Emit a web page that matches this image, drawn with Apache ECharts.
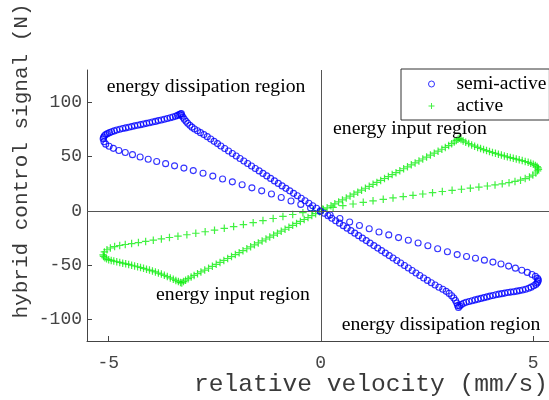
<!DOCTYPE html>
<html>
<head>
<meta charset="utf-8">
<script src="https://cdn.jsdelivr.net/npm/echarts@6/dist/echarts.min.js"></script>
<style>
  html, body { margin: 0; padding: 0; background: #fff; }
  #chart { width: 549px; height: 400px; }
</style>
</head>
<body>
<div id="chart"></div>
<script>
// Tick values shown on each axis
const xTicks = [-5, 0, 5];
const yTicks = [-100, -50, 0, 50, 100];

// Semi-active control: [relative velocity (mm/s), control signal (N)]
const semiActive = [
  // upper return branch
  [-5.12,66.5],[-5.11,68.0],[-5.09,69.3],[-5.06,70.4],[-5.02,71.3],[-4.97,72.2],[-4.92,73.0],[-4.86,73.8],
  [-4.80,74.6],[-4.73,75.4],[-4.66,76.0],[-4.59,76.6],[-4.52,77.2],[-4.45,77.8],[-4.38,78.5],[-4.31,79.0],
  [-4.24,79.6],[-4.17,80.2],[-4.10,80.8],[-4.03,81.4],[-3.96,82.0],[-3.89,82.6],[-3.82,83.3],[-3.75,83.9],
  [-3.68,84.6],[-3.61,85.3],[-3.54,86.0],[-3.48,86.7],[-3.42,87.4],[-3.37,88.1],[-3.33,88.8],[-3.30,89.4],[-3.28,89.8],
  // steep falling branch
  [-3.27,88.0],[-3.24,86.4],[-3.21,84.6],[-3.17,82.7],[-3.13,80.9],[-3.08,79.0],[-3.03,77.3],[-2.97,75.6],
  [-2.90,73.9],[-2.83,72.2],[-2.75,70.4],[-2.67,68.5],[-2.59,66.4],[-2.51,64.2],[-2.43,62.1],[-2.35,59.9],
  [-2.26,57.6],[-2.17,55.3],[-2.08,53.0],[-1.99,50.6],[-1.90,48.3],[-1.81,46.0],[-1.72,43.7],[-1.63,41.4],
  [-1.54,39.1],[-1.45,36.9],[-1.36,34.6],[-1.27,32.3],[-1.18,30.0],[-1.09,27.7],[-1.00,25.4],[-0.91,23.1],
  [-0.82,20.8],[-0.73,18.5],[-0.64,16.2],[-0.55,14.0],[-0.46,11.7],[-0.37,9.4],[-0.28,7.1],[-0.19,4.8],
  [-0.10,2.5],[-0.01,0.2],[0.08,-2.1],[0.17,-4.4],[0.26,-6.7],[0.35,-9.0],[0.44,-11.3],[0.53,-13.6],
  [0.62,-15.9],[0.71,-18.2],[0.80,-20.5],[0.89,-22.8],[0.98,-25.1],[1.07,-27.4],[1.16,-29.7],[1.25,-32.0],
  [1.34,-34.3],[1.43,-36.6],[1.52,-38.9],[1.61,-41.2],[1.70,-43.5],[1.79,-45.8],[1.88,-48.1],[1.97,-50.4],
  [2.06,-52.7],[2.15,-55.0],[2.24,-57.3],[2.33,-59.6],[2.42,-61.9],[2.51,-64.1],[2.60,-66.3],[2.69,-68.4],
  [2.78,-70.4],[2.87,-72.3],[2.95,-74.2],[3.02,-76.1],[3.08,-78.2],[3.13,-80.4],[3.17,-82.7],[3.20,-85.0],
  [3.22,-87.2],[3.24,-89.0],
  // lower branch
  [3.27,-87.6],[3.31,-86.3],[3.36,-85.2],[3.42,-84.3],[3.49,-83.5],[3.56,-82.8],[3.63,-82.1],[3.70,-81.4],
  [3.77,-80.7],[3.84,-80.0],[3.91,-79.3],[3.98,-78.6],[4.05,-78.0],[4.12,-77.4],[4.19,-76.8],[4.26,-76.3],
  [4.33,-75.8],[4.40,-75.3],[4.47,-74.9],[4.54,-74.5],[4.61,-74.0],[4.68,-73.5],[4.75,-72.9],[4.82,-72.2],
  [4.89,-71.3],[4.95,-70.3],[5.01,-69.1],[5.06,-67.8],[5.09,-66.4],[5.11,-65.0],[5.12,-63.6],
  // fast sweep back
  [5.10,-62.2],[5.05,-60.4],[4.97,-58.6],[4.86,-56.7],[4.73,-54.7],[4.58,-52.8],[4.42,-50.9],[4.24,-49.0],
  [4.05,-47.2],[3.85,-45.4],[3.64,-43.6],[3.43,-42.0],[3.21,-40.3],[2.98,-37.7],[2.75,-34.9],[2.52,-32.2],
  [2.29,-29.6],[2.06,-27.0],[1.83,-24.6],[1.60,-22.1],[1.37,-19.4],[1.14,-16.5],[0.91,-13.4],[0.68,-10.2],
  [0.45,-7.0],[0.22,-3.8],[-0.01,-0.6],[-0.24,2.7],[-0.47,6.0],[-0.70,9.2],[-0.93,12.4],[-1.16,15.6],
  [-1.39,18.5],[-1.62,21.3],[-1.85,24.1],[-2.08,26.8],[-2.31,29.5],[-2.54,32.1],[-2.77,34.7],[-3.00,37.2],
  [-3.22,39.5],[-3.44,41.6],[-3.65,43.6],[-3.86,45.6],[-4.06,47.7],[-4.25,49.8],[-4.43,51.9],[-4.60,53.9],
  [-4.75,55.8],[-4.88,57.7],[-4.98,59.6],[-5.06,61.6],[-5.10,63.8]
];

// Active control: [relative velocity (mm/s), control signal (N)]
const active = [
  // lower branch
  [-5.12,-40.5],[-5.11,-42.0],[-5.08,-43.2],[-5.04,-44.2],[-4.99,-45.0],[-4.93,-45.7],[-4.87,-46.3],[-4.80,-46.9],
  [-4.73,-47.5],[-4.66,-48.2],[-4.59,-48.8],[-4.52,-49.4],[-4.45,-50.1],[-4.38,-50.8],[-4.31,-51.5],[-4.24,-52.2],
  [-4.17,-53.0],[-4.10,-53.8],[-4.03,-54.6],[-3.96,-55.4],[-3.89,-56.3],[-3.82,-57.3],[-3.75,-58.3],[-3.68,-59.4],
  [-3.61,-60.6],[-3.54,-61.8],[-3.47,-63.0],[-3.41,-64.1],[-3.35,-65.2],[-3.30,-66.1],
  // steep rising branch
  [-3.27,-66.4],[-3.23,-65.2],[-3.18,-63.9],[-3.12,-62.5],[-3.05,-61.0],[-2.98,-59.5],[-2.90,-57.9],[-2.82,-56.3],
  [-2.73,-54.6],[-2.64,-52.9],[-2.55,-51.1],[-2.46,-49.3],[-2.37,-47.5],[-2.28,-45.7],[-2.19,-43.9],[-2.10,-42.1],
  [-2.01,-40.3],[-1.92,-38.5],[-1.83,-36.7],[-1.74,-34.9],[-1.65,-33.1],[-1.56,-31.3],[-1.47,-29.5],[-1.38,-27.7],
  [-1.29,-25.9],[-1.20,-24.1],[-1.11,-22.3],[-1.02,-20.5],[-0.93,-18.7],[-0.84,-16.9],[-0.75,-15.1],[-0.66,-13.3],
  [-0.57,-11.5],[-0.48,-9.7],[-0.39,-7.9],[-0.30,-6.1],[-0.21,-4.3],[-0.12,-2.5],[-0.03,-0.7],[0.06,1.1],
  [0.15,2.9],[0.24,4.7],[0.33,6.5],[0.42,8.3],[0.51,10.1],[0.60,11.9],[0.69,13.7],[0.78,15.5],
  [0.87,17.3],[0.96,19.1],[1.05,20.9],[1.14,22.7],[1.23,24.5],[1.32,26.3],[1.41,28.1],[1.50,29.9],
  [1.59,31.7],[1.68,33.5],[1.77,35.3],[1.86,37.1],[1.95,38.9],[2.04,40.7],[2.13,42.5],[2.22,44.3],
  [2.31,46.1],[2.40,47.9],[2.49,49.7],[2.58,51.5],[2.67,53.3],[2.76,55.1],[2.85,56.9],[2.93,58.6],
  [3.01,60.3],[3.08,62.0],[3.14,63.6],[3.19,65.0],[3.23,66.2],[3.26,67.0],
  // upper branch
  [3.30,65.8],[3.35,64.6],[3.41,63.4],[3.48,62.1],[3.55,60.9],[3.62,59.7],[3.69,58.6],[3.76,57.6],
  [3.83,56.6],[3.90,55.7],[3.97,54.8],[4.04,53.9],[4.11,53.1],[4.18,52.3],[4.25,51.5],[4.32,50.7],
  [4.39,49.9],[4.46,49.2],[4.53,48.5],[4.60,47.8],[4.67,47.1],[4.74,46.4],[4.81,45.6],[4.88,44.8],
  [4.94,43.9],[5.00,43.0],[5.05,42.0],[5.09,40.9],[5.11,39.7],[5.12,38.4],
  // fast sweep back
  [5.10,37.0],[5.06,35.0],[4.99,33.1],[4.91,31.4],[4.81,29.8],[4.70,28.4],[4.57,27.2],[4.43,26.1],
  [4.27,25.0],[4.10,24.0],[3.92,23.0],[3.72,22.0],[3.52,21.0],[3.31,20.0],[3.09,19.0],[2.86,17.9],
  [2.63,16.8],[2.40,15.6],[2.17,14.4],[1.94,13.2],[1.70,12.0],[1.47,10.7],[1.23,9.3],[1.00,7.9],
  [0.76,6.4],[0.52,4.9],[0.29,3.3],[0.05,1.7],[-0.19,0.1],[-0.42,-1.6],[-0.66,-3.3],[-0.89,-5.1],
  [-1.12,-7.0],[-1.36,-8.9],[-1.59,-10.8],[-1.82,-12.6],[-2.05,-14.4],[-2.27,-16.1],[-2.50,-17.8],[-2.72,-19.2],
  [-2.94,-20.6],[-3.15,-22.0],[-3.36,-23.3],[-3.56,-24.5],[-3.75,-25.8],[-3.94,-27.0],[-4.12,-28.1],[-4.29,-29.2],
  [-4.45,-30.1],[-4.60,-31.0],[-4.73,-31.9],[-4.85,-32.9],[-4.95,-34.2],[-5.03,-35.8],[-5.09,-37.8]
];

// Region annotations: [text, centre x, centre y] in pixels
const regionNotes = [
  ['energy dissipation region', 206, 87],
  ['energy input region', 410, 129],
  ['energy input region', 233, 295],
  ['energy dissipation region', 441, 325]
];

const AXIS_GREY = '#444';
const MONO = 'Liberation Mono';
const SERIF = 'Liberation Serif';
const PLUS = 'path://M0,4.2H10V5.8H0Z M4.2,0H5.8V10H4.2Z';

const chart = echarts.init(document.getElementById('chart'), null, { renderer: 'canvas' });

chart.setOption({
  animation: false,
  backgroundColor: '#fff',
  grid: { left: 87, right: 0, top: 70, bottom: 59, containLabel: false },
  xAxis: {
    type: 'value',
    min: -5.5,
    max: 5.37,
    axisLine: { show: true, onZero: false, lineStyle: { color: AXIS_GREY, width: 1 } },
    axisTick: { show: true, inside: true, length: 5, customValues: xTicks, lineStyle: { color: AXIS_GREY } },
    axisLabel: { customValues: xTicks, margin: 13, fontFamily: MONO, fontSize: 18, color: AXIS_GREY,
                 formatter: v => String(v) },
    splitLine: { show: false }
  },
  yAxis: {
    type: 'value',
    min: -120,
    max: 130,
    axisLine: { show: true, onZero: false, lineStyle: { color: AXIS_GREY, width: 1 } },
    axisTick: { show: true, inside: true, length: 5, customValues: yTicks, lineStyle: { color: AXIS_GREY } },
    axisLabel: { customValues: yTicks, margin: 5, fontFamily: MONO, fontSize: 18, color: AXIS_GREY,
                 formatter: v => String(v) },
    splitLine: { show: false }
  },
  legend: {
    orient: 'vertical',
    left: 401,
    top: 69,
    backgroundColor: '#fff',
    borderColor: '#333',
    borderWidth: 1,
    borderRadius: 0,
    padding: [5, 3, 4, 27],
    itemWidth: 6,
    itemHeight: 6,
    itemGap: 2,
    textStyle: { fontFamily: SERIF, fontSize: 19.5, lineHeight: 19, color: '#000', padding: [0, 0, 0, 17] },
    data: [
      { name: 'semi-active', itemStyle: { borderWidth: 1 } },
      { name: 'active' }
    ]
  },
  series: [
    {
      name: 'semi-active',
      type: 'scatter',
      data: semiActive,
      symbol: 'circle',
      symbolSize: 6,
      itemStyle: { color: 'rgba(0,0,0,0)', borderColor: '#0000ff', borderWidth: 1.1 },
      markLine: {
        silent: true,
        symbol: 'none',
        label: { show: false },
        lineStyle: { color: '#555', width: 1, type: 'solid' },
        data: [{ xAxis: 0 }, { yAxis: 0 }]
      },
      z: 3
    },
    {
      name: 'active',
      type: 'scatter',
      data: active,
      symbol: PLUS,
      symbolSize: 7.5,
      itemStyle: { color: '#11ee11' },
      z: 2
    }
  ],
  graphic: [
    ...regionNotes.map(([t, x, y]) => ({
      type: 'text',
      x: x, y: y,
      z: 10,
      style: { text: t, fill: '#000', font: '19.7px ' + SERIF, textAlign: 'center', textVerticalAlign: 'middle' }
    })),
    {
      type: 'text',
      x: 21, y: 161,
      rotation: Math.PI / 2,
      style: { text: 'hybrid control signal (N)', fill: '#3a3a3a', font: '21px ' + MONO,
               textAlign: 'center', textVerticalAlign: 'middle' }
    },
    {
      type: 'text',
      x: 371, y: 384,
      style: { text: 'relative velocity (mm/s)', fill: '#3a3a3a', font: '24.6px ' + MONO,
               textAlign: 'center', textVerticalAlign: 'middle' }
    }
  ]
});
</script>
</body>
</html>
